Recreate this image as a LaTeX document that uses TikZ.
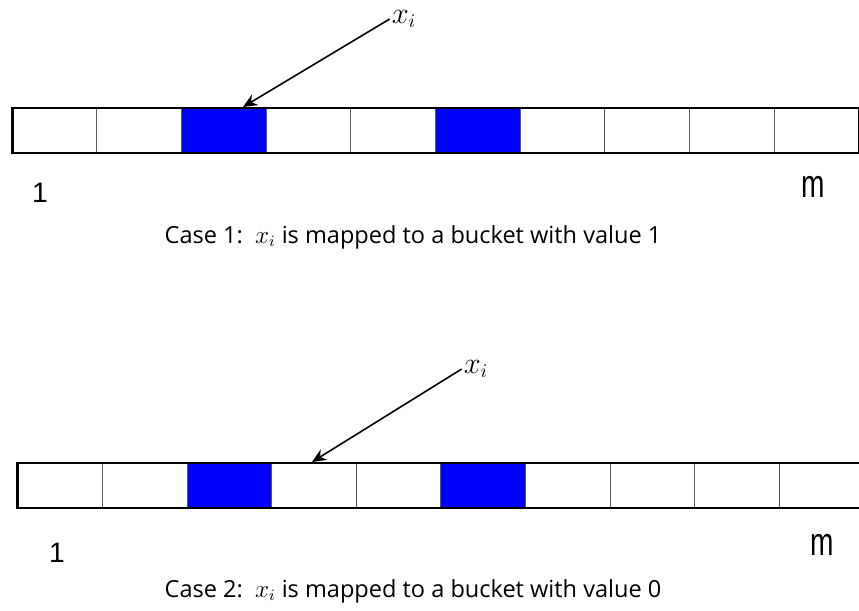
\documentclass[tikz,border=0pt]{standalone}
\usepackage{fontspec}
\setsansfont{Liberation Sans}
\newfontfamily\capfont{Open Sans}
\usetikzlibrary{arrows.meta,positioning}

\tikzset{
  cell/.style={draw=gray!70!black, line width=0.6pt, minimum width=1.694cm,
    minimum height=0.9cm, inner sep=0pt, outer sep=0pt},
  frame/.style={line width=1.7pt},
  ptr/.style={-{Stealth[length=8pt,width=7pt]}, line width=0.9pt},
  idx/.style={font=\sffamily\fontsize{16}{16}\selectfont},
  caption/.style={font=\capfont\fontsize{13.4}{14}\selectfont},
  elem/.style={font=\fontsize{16}{16}\selectfont, inner sep=1pt}
}

\begin{document}
\begin{tikzpicture}[x=0.02cm,y=-0.02cm]
  \useasboundingbox (0,0) rectangle (859,611);

  % case 1
  \foreach \i/\f in {1/white,2/white,3/blue,4/white,5/white,6/blue,7/white,8/white,9/white,10/white}
    \node[cell, fill=\f] (a\i) at ({12+84.7*(\i-0.5)},130.5) {};
  \draw[frame] (a1.north west) rectangle (a10.south east);
  \node[elem] (xa) at (404,19) {$x_i$};
  \coordinate (ta) at (243,107);
  \draw[ptr] (xa.west) -- (ta);
  \node[idx] (onea) at (40,193) {1};
  \node[idx] (ma) at (813,187) {\scalebox{1}[1.4]{m}};
  \node[caption] (capa) at (413,237) {Case 1:\ \ $x_i$ is mapped to a bucket with value 1};

  % case 2
  \foreach \i/\f in {1/white,2/white,3/blue,4/white,5/white,6/blue,7/white,8/white,9/white,10/white}
    \node[cell, fill=\f] (b\i) at ({18+84.6*(\i-0.5)},485.5) {};
  \draw[frame] (b1.north west) rectangle (b10.south east);
  \node[elem] (xb) at (476,369) {$x_i$};
  \coordinate (tb) at (312,462);
  \draw[ptr] (xb.west) -- (tb);
  \node[idx] (oneb) at (57,553) {1};
  \node[idx] (mb) at (822,545) {\scalebox{1}[1.4]{m}};
  \node[caption] (capb) at (413,591) {Case 2:\ \ $x_i$ is mapped to a bucket with value 0};
\end{tikzpicture}
\end{document}
